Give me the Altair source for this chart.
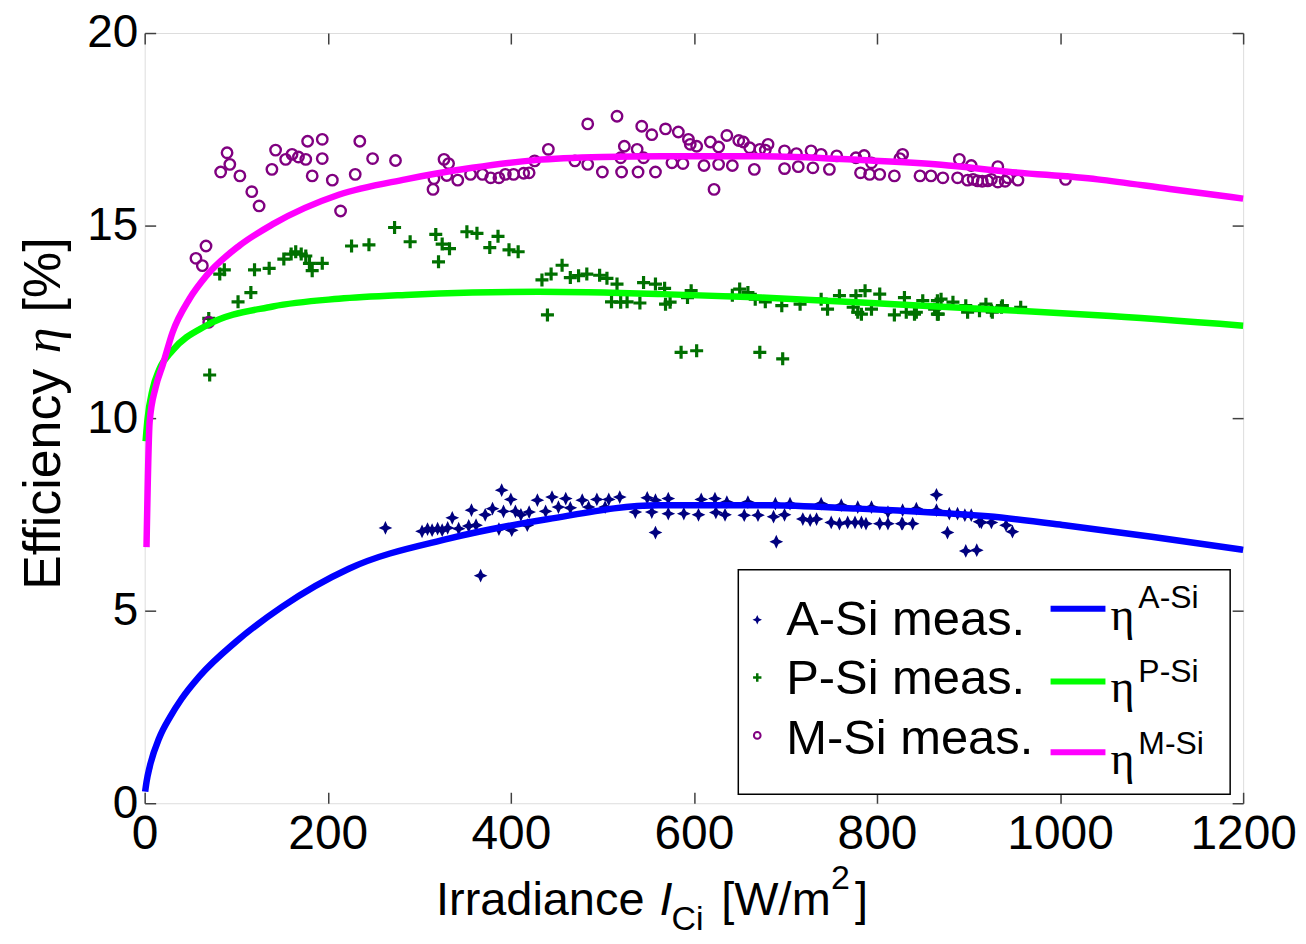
import altair as alt
import pandas as pd

# ---------------- data ----------------
asi_x = [263, 303, 309, 314, 320, 325, 331, 336, 343, 354, 357, 362, 372, 380, 392, 390, 400, 405, 411, 387,
         401, 420, 418, 429, 438, 445, 452, 460, 465, 478, 485, 494, 503, 507, 519, 536, 549, 554, 558, 572,
         572, 558, 367, 589, 605, 608, 623, 624, 634, 636, 655, 659, 670, 687, 689, 699, 705, 690, 719, 727,
         734, 739, 750, 759, 768, 776, 783, 788, 761, 779, 794, 803, 812, 812, 828, 839, 828, 843, 865, 865,
         877, 897, 909, 888, 903, 912, 827, 879, 896, 914, 925, 941, 948]
asi_y = [7.15, 7.06, 7.12, 7.09, 7.13, 7.09, 7.15, 7.41, 7.13, 7.20, 7.61, 7.22, 7.49, 7.65, 7.58, 8.13, 7.89, 7.58, 7.49, 7.12,
         7.09, 7.56, 7.22, 7.87, 7.58, 7.95, 7.69, 7.91, 7.67, 7.87, 7.69, 7.89, 7.69, 7.89, 7.95, 7.56, 7.93, 7.56, 7.87, 7.91,
         7.52, 7.03, 5.91, 7.52, 7.49, 7.89, 7.91, 7.55, 7.49, 7.82, 7.48, 7.82, 7.48, 7.44, 7.78, 7.49, 7.78, 6.79, 7.38, 7.35,
         7.38, 7.78, 7.29, 7.26, 7.29, 7.29, 7.29, 7.26, 7.74, 7.69, 7.69, 7.26, 7.26, 7.56, 7.26, 7.26, 7.61, 7.65, 8.01, 7.61,
         7.03, 6.55, 6.57, 7.52, 7.48, 7.31, 7.26, 7.52, 7.48, 7.29, 7.29, 7.22, 7.05]

psi_x = [273, 290, 318, 325, 333, 321, 352, 363, 386, 377, 398, 408, 226, 245, 194, 183, 180, 176, 171, 165,
         160, 152, 136, 120, 87, 82, 116, 102, 70, 71, 434, 444, 456, 465, 474, 483, 497, 505, 516, 545,
         558, 568, 510, 520, 527, 541, 569, 574, 597, 593, 440, 586, 603, 672, 697, 642, 650, 659, 667, 678,
         696, 716, 739, 746, 759, 774, 779, 783, 777, 787, 794, 803, 819, 832, 830, 843, 850, 863, 867, 870,
         883, 897, 899, 912, 919, 926, 936, 841, 866, 866, 925, 937, 957]
psi_y = [14.95, 14.58, 14.77, 14.52, 14.40, 14.06, 14.84, 14.80, 14.72, 14.43, 14.37, 14.32, 14.47, 14.50, 14.02, 13.83, 14.02, 14.21, 14.26, 14.32,
         14.26, 14.13, 13.89, 13.85, 13.85, 13.74, 13.26, 13.02, 12.59, 11.12, 13.59, 13.74, 13.97, 13.65, 13.70, 13.74, 13.71, 13.63, 13.48, 13.52,
         13.48, 13.37, 13.02, 13.01, 13.02, 12.99, 12.96, 13.01, 13.31, 13.13, 12.68, 11.71, 11.75, 11.71, 11.54, 13.19, 13.35, 13.26, 13.09, 13.02,
         12.92, 12.96, 13.09, 12.83, 13.18, 12.88, 12.75, 12.70, 13.18, 13.31, 12.83, 13.22, 12.68, 12.75, 13.13, 12.75, 13.05, 12.83, 12.70, 13.09,
         13.01, 12.92, 12.75, 12.79, 12.96, 12.75, 12.88, 12.70, 13.05, 12.70, 12.79, 12.92, 12.88]

msi_x = [90, 93, 83, 104, 117, 125, 143, 139, 154, 161, 168, 176, 178, 194, 194, 183, 205, 214, 230, 235,
         249, 274, 327, 332, 316, 315, 330, 342, 356, 369, 378, 387, 394, 403, 414, 67, 56, 63, 70, 420,
         426, 441, 484, 516, 470, 484, 500, 521, 539, 558, 524, 538, 520, 543, 554, 569, 583, 594, 596, 603,
         576, 588, 545, 611, 627, 642, 618, 627, 636, 649, 654, 661, 672, 681, 678, 666, 622, 699, 714, 699,
         712, 728, 739, 730, 748, 756, 777, 786, 782, 792, 803, 819, 828, 825, 847, 859, 872, 890, 903, 932,
         888, 899, 910, 921, 932, 794, 943, 954, 1006, 905, 915, 925, 940]
msi_y = [16.89, 16.59, 16.39, 16.29, 15.88, 15.51, 16.96, 16.46, 16.72, 16.85, 16.78, 16.72, 17.19, 17.24, 16.74, 16.29, 16.18, 15.38, 16.33, 17.19,
         16.74, 16.69, 16.72, 16.61, 16.22, 15.94, 16.30, 16.18, 16.33, 16.33, 16.24, 16.24, 16.33, 16.33, 16.36, 14.47, 14.15, 13.96, 12.49, 16.37,
         16.68, 16.98, 17.64, 17.84, 16.68, 16.59, 16.39, 16.39, 16.39, 16.39, 17.06, 16.98, 16.76, 17.58, 17.36, 17.51, 17.43, 17.24, 17.11, 17.06,
         16.63, 16.61, 16.76, 16.56, 16.59, 16.56, 17.17, 17.04, 17.34, 17.21, 17.17, 17.02, 16.98, 17.11, 16.96, 16.46, 15.94, 16.48, 16.53, 16.94,
         16.87, 16.94, 16.85, 16.50, 16.46, 16.81, 16.76, 16.82, 16.37, 16.33, 16.33, 16.29, 16.85, 16.74, 16.29, 16.29, 16.24, 16.72, 16.56, 16.53,
         16.24, 16.18, 16.16, 16.16, 16.13, 16.63, 16.24, 16.18, 16.20, 16.20, 16.15, 16.20, 16.15]

fit_a_x = [0.5, 2, 5.5, 16, 28, 40, 60, 100, 150, 223, 332, 441, 561, 681, 779, 823, 921, 1005, 1100, 1200]
fit_a_y = [0.3, 0.55, 0.95, 1.7, 2.25, 2.7, 3.3, 4.2, 5.1, 6.09, 6.87, 7.38, 7.74, 7.74, 7.65, 7.6, 7.45, 7.22, 6.92, 6.58]

fit_p_x = [1, 3, 8.7, 16, 30.5, 67, 140, 212, 285, 358, 430, 565, 674, 783, 943, 1041, 1200]
fit_p_y = [9.4, 9.95, 10.75, 11.27, 11.76, 12.4, 12.9, 13.1, 13.2, 13.26, 13.28, 13.22, 13.13, 13.0, 12.8, 12.67, 12.4]

fit_m_x = [2, 5.4, 12, 19.6, 30.5, 49, 67.5, 103.5, 139.5, 212, 285, 358, 427, 500, 565, 674, 783, 870, 943, 1041, 1120, 1200]
fit_m_y = [6.65, 9.9, 10.8, 11.37, 12.23, 13.1, 13.7, 14.48, 15.03, 15.8, 16.2, 16.5, 16.7, 16.78, 16.8, 16.8, 16.7, 16.58, 16.4, 16.2, 15.95, 15.7]

x_ticks = [0, 200, 400, 600, 800, 1000, 1200]
y_ticks = [0, 5, 10, 15, 20]

meas_labels = ["A-Si meas.", "P-Si meas.", "M-Si meas."]
fit_sup = ["A-Si", "P-Si", "M-Si"]

# ---------------- style ----------------
NAVY = "#00007f"
DKGREEN = "#007000"
PURPLE = "#800080"
BLUE = "#0000ff"
GREEN = "#00ff00"
MAGENTA = "#ff00ff"
SANS = "Liberation Sans"
SERIF = "Liberation Serif"
FRAME = "#404040"
STAR = "M0,-1 L0.32,-0.32 L1,0 L0.32,0.32 L0,1 L-0.32,0.32 L-1,0 L-0.32,-0.32 Z"
PLUS = "M-1,0 L1,0 M0,-1 L0,1"

W, H = 1101, 772
xs = alt.Scale(domain=[0, 1200], nice=False, zero=False)
ys = alt.Scale(domain=[0, 20], nice=False, zero=False)

common_axis = dict(domain=False, grid=False, tickSize=11, offset=-11, tickColor=FRAME, tickWidth=1.5,
                   labelFont=SANS, labelColor="black", title=None, format="d")
ax_bottom = alt.Axis(orient="bottom", values=x_ticks, labelPadding=7, labelFlush=False, labelFontSize=48, **common_axis)
ax_left = alt.Axis(orient="left", values=y_ticks, labelPadding=7, labelFlush=False, labelFontSize=46, **common_axis)
ax_top = alt.Axis(orient="top", values=x_ticks, labels=False, **common_axis)
ax_right = alt.Axis(orient="right", values=y_ticks, labels=False, **common_axis)


def pts(xv, yv, **mk):
    return alt.Chart(pd.DataFrame({"x": xv, "y": yv})).mark_point(**mk)


asi = pts(asi_x, asi_y, shape=STAR, filled=True, color=NAVY, size=190, opacity=1).encode(
    x=alt.X("x:Q", scale=xs, axis=ax_bottom), y=alt.Y("y:Q", scale=ys, axis=ax_left))
psi = pts(psi_x, psi_y, shape=PLUS, filled=False, color=DKGREEN, size=170, strokeWidth=3.2, opacity=1).encode(
    x=alt.X("x:Q", scale=xs, axis=None), y=alt.Y("y:Q", scale=ys, axis=None))
msi = pts(msi_x, msi_y, shape="circle", filled=False, color=PURPLE, size=110, strokeWidth=2.4, opacity=1).encode(
    x=alt.X("x:Q", scale=xs, axis=None), y=alt.Y("y:Q", scale=ys, axis=None))


def fit(xv, yv, col, axx=None, axy=None):
    return alt.Chart(pd.DataFrame({"x": xv, "y": yv})).mark_line(
        color=col, strokeWidth=6.5, interpolate="monotone").encode(
        x=alt.X("x:Q", scale=xs, axis=axx), y=alt.Y("y:Q", scale=ys, axis=axy), order="x:Q")


la = fit(fit_a_x, fit_a_y, BLUE)
lp = fit(fit_p_x, fit_p_y, GREEN)
lm = fit(fit_m_x, fit_m_y, MAGENTA, ax_top, ax_right)


def txt(s, x, y, size=46, font=SANS, align="left", baseline="alphabetic", style="normal", angle=0):
    return alt.Chart(pd.DataFrame({"t": [s]})).mark_text(
        font=font, fontSize=size, align=align, baseline=baseline, fontStyle=style, angle=angle,
        color="black").encode(text="t:N", x=alt.value(x), y=alt.value(y))


# axis titles (plot-area pixel positions)
titles = [
    txt("Irradiance", 292, 884, size=47),
    txt("I", 516, 884, size=47, style="italic"),
    txt("Ci", 528, 899, size=34),
    txt("[W/m", 578, 884, size=47),
    txt("2", 688, 858, size=34),
    txt("]", 712, 884, size=47),
    txt("Efficiency", -85, 558, size=52, angle=270),
    txt("\u03b7", -85, 321, size=52, font=SERIF, style="italic", angle=270),
    txt("[%]", -85, 280, size=52, angle=270),
]

# hand-built legend (as in the reference)
box = alt.Chart(pd.DataFrame({"a": [0]})).mark_rect(fill="white", stroke="black", strokeWidth=1.5).encode(
    x=alt.value(595), x2=alt.value(1088), y=alt.value(538), y2=alt.value(763))
sym_y = [588, 646, 704]
leg = [box,
       alt.Chart(pd.DataFrame({"a": [0]})).mark_point(shape=STAR, filled=True, color=NAVY, size=90, opacity=1).encode(
           x=alt.value(614), y=alt.value(sym_y[0])),
       alt.Chart(pd.DataFrame({"a": [0]})).mark_point(shape=PLUS, filled=False, color=DKGREEN, size=70, strokeWidth=2.5, opacity=1).encode(
           x=alt.value(614), y=alt.value(sym_y[1])),
       alt.Chart(pd.DataFrame({"a": [0]})).mark_point(shape="circle", filled=False, color=PURPLE, size=45, strokeWidth=2, opacity=1).encode(
           x=alt.value(614), y=alt.value(sym_y[2])),
       ]
txt_base = [603, 663, 723]
for lab, yb in zip(meas_labels, txt_base):
    leg.append(txt(lab, 643, yb, size=49))
sw_y = [577, 650, 721]
for col, yy in zip([BLUE, GREEN, MAGENTA], sw_y):
    leg.append(alt.Chart(pd.DataFrame({"a": [0]})).mark_rule(color=col, strokeWidth=6).encode(
        x=alt.value(908), x2=alt.value(963), y=alt.value(yy)))
eta_base = [598, 671, 743]
sup_base = [576, 650, 723]
for s, eb, sb in zip(fit_sup, eta_base, sup_base):
    leg.append(txt("\u03b7", 968, eb, size=46, font=SERIF))
    leg.append(txt(s, 996, sb, size=32))

chart = alt.layer(asi, psi, msi, la, lp, lm, *titles, *leg).resolve_axis(
    x="independent", y="independent").properties(
    width=W, height=H,
    autosize=alt.AutoSizeParams(type="none"),
    padding={"left": 137, "top": 24, "right": 55, "bottom": 138},
).configure_view(stroke=FRAME, strokeWidth=1.5).configure(background="white")

chart.save("out.html", embed_options={"renderer": "svg", "actions": False})
